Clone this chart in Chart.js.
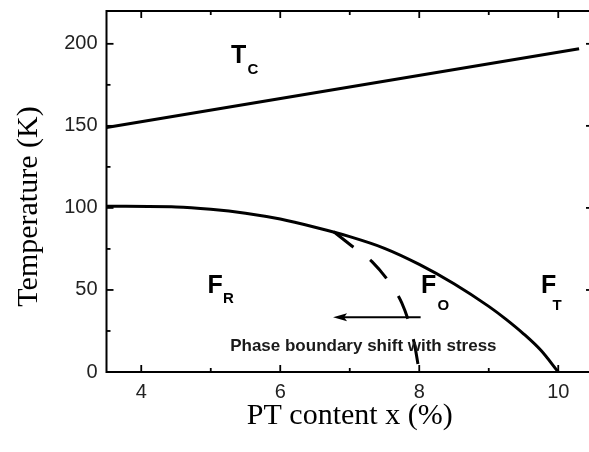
<!DOCTYPE html>
<html>
<head>
<meta charset="utf-8">
<script src="https://cdn.jsdelivr.net/npm/chart.js@4.4.1/dist/chart.umd.min.js"></script>
<style>
  html, body { margin: 0; padding: 0; background: #fff; overflow: hidden; }
  canvas { display: block; }
</style>
</head>
<body>
<canvas id="phaseChart" width="596" height="452"></canvas>
<script>
// Curie temperature line
const tcX = [3.5, 10.3];
const tcY = [149, 197];

// rhombohedral / orthorhombic / tetragonal boundary
const frX = [3.5, 4.5, 5.0, 5.5, 6.0, 6.5, 7.0, 7.5, 8.0, 8.5, 9.0, 9.25, 9.5, 9.75, 10.0];
const frY = [101, 100.6, 99.2, 96.8, 93.2, 88.2, 82.5, 75.4, 65.6, 53.8, 40.0, 32.1, 23.3, 13.2, 0];

// boundary under stress (dashed)
const shiftX = [6.77, 7.03, 7.32, 7.58, 7.75, 7.86, 7.94, 8.0];
const shiftY = [85.5, 76.8, 67.3, 54, 42, 29, 15, 0];

// arrow: tail -> head
const arrowX = [8.02, 6.76];
const arrowY = [33.3, 33.3];

const xTickValues = [4, 6, 8, 10];
const xMinorValues = [5, 7, 9];
const yTickValues = [0, 50, 100, 150, 200];
const yMinorValues = [25, 75, 125, 175];

const xTitle = 'PT content x (%)';
const yTitle = 'Temperature (K)';
const arrowText = 'Phase boundary shift with stress';

const regionLabels = [
  { main: 'T', sub: 'C', x: 5.291, y: 188.3, subX: 5.529, subY: 181.6 },
  { main: 'F', sub: 'R', x: 4.953, y: 48.0, subX: 5.176, subY: 41.9 },
  { main: 'F', sub: 'O', x: 8.025, y: 48.0, subX: 8.263, subY: 37.8 },
  { main: 'F', sub: 'T', x: 9.752, y: 48.1, subX: 9.917, subY: 37.8 },
];

const toPoints = (xs, ys) => xs.map((x, i) => ({ x: x, y: ys[i] }));

const sansFont = '"Liberation Sans", Arial, Helvetica, sans-serif';
const serifFont = '"Liberation Serif", "Times New Roman", serif';

const frameAndLabels = {
  id: 'frameAndLabels',
  afterDraw(chart) {
    const ctx = chart.ctx;
    const area = chart.chartArea;
    const xs = chart.scales.x;
    const ys = chart.scales.y;

    ctx.save();
    ctx.strokeStyle = '#000';
    ctx.fillStyle = '#000';

    // box
    ctx.lineWidth = 2;
    ctx.strokeRect(area.left, area.top, area.right - area.left, area.bottom - area.top);

    // inward ticks on all four sides
    const tick = (x1, y1, x2, y2) => {
      ctx.beginPath();
      ctx.moveTo(x1, y1);
      ctx.lineTo(x2, y2);
      ctx.stroke();
    };
    ctx.lineWidth = 1.8;
    const drawX = (vals, len) => vals.forEach((v) => {
      const px = xs.getPixelForValue(v);
      tick(px, area.bottom, px, area.bottom - len);
      tick(px, area.top, px, area.top + len);
    });
    const drawY = (vals, len) => vals.forEach((v) => {
      const py = ys.getPixelForValue(v);
      tick(area.left, py, area.left + len, py);
      tick(area.right, py, area.right - len, py);
    });
    drawX(xTickValues, 7);
    drawX(xMinorValues, 4);
    drawY(yTickValues, 7);
    drawY(yMinorValues, 4);

    // arrow
    const tailX = xs.getPixelForValue(arrowX[0]);
    const headX = xs.getPixelForValue(arrowX[1]);
    const ay = ys.getPixelForValue(arrowY[0]);
    ctx.lineWidth = 2;
    tick(tailX, ay, headX + 10, ay);
    ctx.beginPath();
    ctx.moveTo(headX, ay);
    ctx.lineTo(headX + 14, ay - 4);
    ctx.lineTo(headX + 11, ay);
    ctx.lineTo(headX + 14, ay + 4);
    ctx.closePath();
    ctx.fill();

    // phase region labels
    ctx.textAlign = 'left';
    ctx.textBaseline = 'alphabetic';
    regionLabels.forEach((lab) => {
      ctx.font = 'bold 25px ' + sansFont;
      ctx.fillText(lab.main, xs.getPixelForValue(lab.x), ys.getPixelForValue(lab.y));
      ctx.font = 'bold 15px ' + sansFont;
      ctx.fillText(lab.sub, xs.getPixelForValue(lab.subX), ys.getPixelForValue(lab.subY));
    });

    ctx.font = 'bold 17px ' + sansFont;
    ctx.fillStyle = '#1a1a1a';
    ctx.textAlign = 'center';
    ctx.fillText(arrowText, xs.getPixelForValue(7.196), ys.getPixelForValue(13.0));

    // axis titles
    ctx.fillStyle = '#000';
    ctx.font = '30px ' + serifFont;
    ctx.textBaseline = 'middle';
    ctx.fillText(xTitle, (area.left + area.right) / 2, 416);
    ctx.translate(29, 206.5);
    ctx.rotate(-Math.PI / 2);
    ctx.fillText(yTitle, 0, 0);
    ctx.restore();
  },
};

const lineStyle = {
  borderColor: '#000',
  backgroundColor: '#000',
  pointRadius: 0,
  fill: false,
};

const ctxPhase = document.getElementById('phaseChart').getContext('2d');
window.phaseChart = new Chart(ctxPhase, {
  type: 'line',
  data: {
    datasets: [
      { ...lineStyle, label: 'Tc', data: toPoints(tcX, tcY), borderWidth: 3.2 },
      {
        ...lineStyle,
        label: 'FR boundary',
        data: toPoints(frX, frY),
        borderWidth: 3,
        cubicInterpolationMode: 'monotone',
      },
      {
        ...lineStyle,
        label: 'stress boundary',
        data: toPoints(shiftX, shiftY),
        borderWidth: 3,
        borderDash: [25, 21],
        cubicInterpolationMode: 'monotone',
      },
    ],
  },
  options: {
    responsive: false,
    animation: false,
    devicePixelRatio: 1,
    layout: { padding: { top: 11, right: 3, left: 0, bottom: 0 } },
    plugins: {
      legend: { display: false },
      tooltip: { enabled: false },
    },
    scales: {
      x: {
        type: 'linear',
        min: 3.5,
        max: 10.5,
        grid: { display: false, drawTicks: false, tickLength: 0 },
        border: { display: false },
        ticks: {
          color: '#222',
          padding: 8,
          font: { family: sansFont, size: 20 },
        },
        afterBuildTicks: (scale) => {
          scale.ticks = xTickValues.map((v) => ({ value: v }));
        },
        afterFit: (scale) => {
          scale.height = 80;
          scale.paddingLeft = 0;
          scale.paddingRight = 0;
        },
      },
      y: {
        type: 'linear',
        min: 0,
        max: 220,
        grid: { display: false, drawTicks: false, tickLength: 0 },
        border: { display: false },
        ticks: {
          color: '#222',
          padding: 9,
          font: { family: sansFont, size: 20 },
        },
        afterBuildTicks: (scale) => {
          scale.ticks = yTickValues.map((v) => ({ value: v }));
        },
        afterFit: (scale) => {
          scale.width = 106.5;
          scale.paddingTop = 0;
          scale.paddingBottom = 0;
        },
      },
    },
  },
  plugins: [frameAndLabels],
});
</script>
</body>
</html>
